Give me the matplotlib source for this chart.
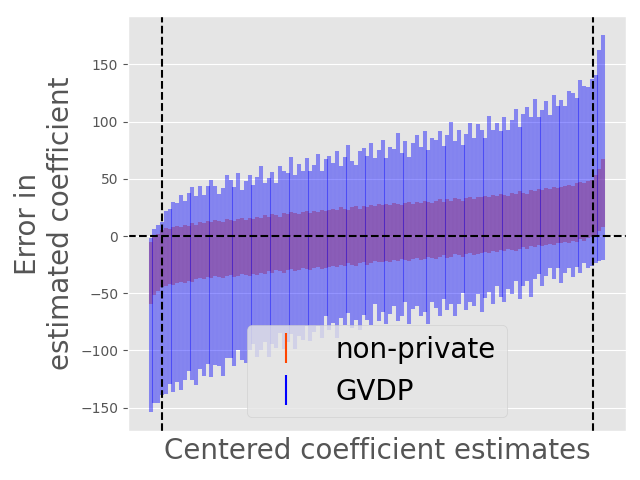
import numpy as np
import matplotlib
matplotlib.use("Agg")
import matplotlib.pyplot as plt
from matplotlib.lines import Line2D

plt.style.use("ggplot")

# error intervals per coefficient, sorted by centered estimate
np_lo = [-59, -52, -48, -45,
         -44, -42, -43, -41, -40, -41, -39, -40, -38, -37,
         -38, -36, -37, -35, -36, -37, -35, -34, -36, -35, -33, -34, -35, -33,
         -34, -32, -33, -31, -32, -30, -31, -32, -30, -29, -31, -30, -28, -29, -30, -28, -27, -29, -28, -27,
         -26, -27, -25, -26, -24, -25, -26, -24, -23, -25, -24, -22, -23, -23,
         -22, -23, -21, -22, -20, -21, -22, -20, -19, -21, -20, -18, -19, -20, -18, -17, -19, -18, -16, -17,
         -18, -16, -15, -17, -16, -15,
         -14, -15, -13, -14, -12, -13, -11, -12, -13, -11, -10, -11, -9, -10, -8, -9, -8, -7, -8, -6, -6,
         -5, -6, -4, -5, -3, -4, -2, -1,
         1, 4, 8]
np_hi = [-5, -1, 2, 5,
         7, 6, 8, 9, 8, 10, 9, 11, 10, 12,
         11, 13, 12, 14, 13, 12, 15, 14, 13, 15, 16, 14, 16, 15,
         17, 16, 18, 17, 19, 18, 17, 20, 19, 21, 20, 19, 21, 22, 20, 22, 21, 23, 22, 23,
         24, 23, 25, 24, 23, 25, 26, 24, 26, 25, 27, 26, 28, 27,
         28, 27, 29, 28, 27, 29, 30, 28, 30, 29, 31, 30, 29, 31, 32, 30, 32, 31, 33, 32,
         31, 33, 34, 32, 34, 34,
         35, 34, 36, 35, 37, 36, 35, 38, 37, 39, 38, 37, 40, 39, 41, 40, 42, 41, 43, 42, 43,
         44, 45, 44, 46, 47, 46, 48, 49,
         53, 59, 67]
gv_lo = [-154, -146, -146, -139, -138,
         -129, -136, -128, -135, -126, -118, -126, -130, -116,
         -122, -112, -123, -113, -114, -122, -107, -107, -114, -100, -108, -111, -100, -94,
         -106, -100, -93, -106, -94, -98, -85, -99, -93, -86, -99, -87, -91,
         -79, -92, -84, -79, -89, -70, -82,
         -76, -89, -72, -78, -67, -80, -73, -82, -69, -73, -78, -59, -74, -66,
         -77, -68, -61, -74, -70, -58, -77, -64, -61, -70, -66, -77, -58, -63, -70, -55, -65, -59,
         -70, -59, -50, -65, -58, -61, -51, -66, -54, -49, -59, -44, -53,
         -58, -46, -51, -39, -55, -44, -39, -53, -38, -33, -44, -35, -28,
         -38, -28, -41, -32, -28, -36, -27, -32, -24, -28, -26,
         -24, -22, -21]
gv_hi = [-2, 6, 10, 12, 22, 24, 30, 29, 36,
         31, 38, 43, 35, 44,
         36, 44, 49, 44, 37, 42, 53, 49, 43, 55, 40, 48, 53, 45,
         52, 61, 46, 51, 56, 46, 61, 57, 55, 69, 53, 63, 57,
         68, 57, 62, 72, 57, 67, 70,
         64, 74, 61, 69, 80, 66, 62, 74, 77, 70, 81, 68, 75, 84,
         68, 78, 76, 90, 73, 83, 69, 81, 88, 78, 92, 75, 86,
         84, 92, 79, 88, 100, 83, 93, 80, 89, 99, 86, 98, 93, 86, 105, 93, 99, 92,
         104, 93, 101, 111, 95, 107, 113, 104, 120, 104, 110, 118, 106, 123, 114, 119,
         114, 127, 125, 121, 136, 131, 130, 137,
         141, 163, 176]
vline_pos = [3.1, 116.4]


def draw_intervals(ax, lo, hi, color, label):
    lo = np.array(lo, dtype=float)
    hi = np.array(hi, dtype=float)
    x = np.arange(len(lo))
    mid = (lo + hi) / 2
    ax.errorbar(x, mid, yerr=[mid - lo, hi - mid], fmt="none", ecolor=color,
                elinewidth=2.9, alpha=0.42, label=label)


fig, ax = plt.subplots(figsize=(6.4, 4.8), dpi=100)
draw_intervals(ax, np_lo, np_hi, "orangered", "non-private")
draw_intervals(ax, gv_lo, gv_hi, "blue", "GVDP")

for v in vline_pos:
    ax.axvline(v, color="black", linestyle="--", linewidth=1.5)
ax.axhline(0, color="black", linestyle="--", linewidth=1.5)

ax.set_xticks([])
ax.set_xlabel("Centered coefficient estimates", fontsize=20)
ax.set_ylabel("Error in\nestimated coefficient", fontsize=20)

handles = [Line2D([], [], marker="|", linestyle="none", markersize=22,
                  markeredgewidth=1.5, color="orangered"),
           Line2D([], [], marker="|", linestyle="none", markersize=22,
                  markeredgewidth=1.5, color="blue")]
ax.legend(handles, ["non-private", "GVDP"], loc="lower center", fontsize=20)

fig.subplots_adjust(left=0.2, right=0.978, top=0.967, bottom=0.102)
fig.savefig("out.png", dpi=100)
